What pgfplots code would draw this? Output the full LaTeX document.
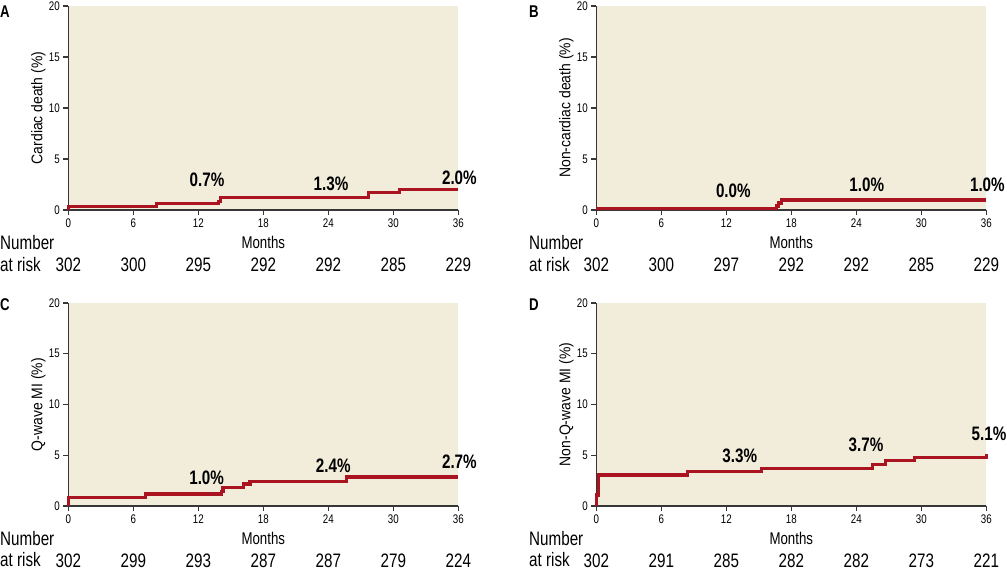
\documentclass[border=0pt]{standalone}
\usepackage{fontspec}
\setmainfont{Liberation Sans}[FakeStretch=0.78]
\newfontfamily\ylfont{Liberation Sans}[FakeStretch=0.9]
\usepackage{pgfplots}
\pgfplotsset{compat=1.18}

\definecolor{bgbeige}{RGB}{242,237,219}
\definecolor{kmred}{RGB}{170,20,32}
\definecolor{axgray}{RGB}{55,55,55}

\tikzset{pct/.style={font=\bfseries\fontsize{19.5}{21}\selectfont}}

\pgfplotsset{
  kmpanel/.style={
    scale only axis, width=390pt, height=204pt,
    xmin=0, xmax=36, ymin=0, ymax=20,
    xtick={0,6,...,36}, ytick={0,5,...,20},
    axis x line*=bottom, axis y line*=left,
    axis line style={axgray, line width=1.3pt},
    tick style={axgray, line width=1.1pt},
    tick align=outside, major tick length=5pt,
    axis background/.style={fill=bgbeige},
    /pgf/number format/assume math mode=true,
    ticklabel style={font=\fontsize{12.5}{13}\selectfont},
    xlabel={Months},
    xlabel style={font=\fontsize{17}{19}\selectfont, at={(axis description cs:0.5,-0.16)}, anchor=center},
    ylabel style={font=\ylfont\fontsize{15.5}{17}\selectfont, at={(axis description cs:-0.077,0.5)}, anchor=center},
    clip=false,
  },
  km/.style={const plot, color=kmred, line width=3.3pt, mark=none},
  risk/.style={draw=none, mark=none, forget plot, nodes near coords, point meta=explicit symbolic,
    nodes near coords style={anchor=center, font=\fontsize{19.5}{21}\selectfont, text=black}},
}

\begin{document}
\begin{tikzpicture}[x=1pt,y=1pt]
\path[use as bounding box] (0,0) rectangle (1007,571);

% A
\begin{axis}[kmpanel, at={(68.3pt,361pt)}, anchor=south west, ylabel={Cardiac death (\%)}]
  \addplot[km] coordinates {(0,0) (0,0.33) (8.16,0.66) (13.85,0.85) (14.07,1.24) (27.7,1.7) (30.6,2.03) (36,2.03)};
  \addplot[risk] coordinates {(0,-5.4)[302] (6,-5.4)[300] (12,-5.4)[295] (18,-5.4)[292] (24,-5.4)[292] (30,-5.4)[285] (36,-5.4)[229]};
  \node[pct] at (axis cs:12.8,2.94) {0.7\%};
  \node[pct] at (axis cs:24.25,2.6) {1.3\%};
  \node[pct] at (axis cs:36.1,3.17) {2.0\%};
\end{axis}

% B
\begin{axis}[kmpanel, at={(596.3pt,361pt)}, anchor=south west, ylabel={Non-cardiac death (\%)}]
  \addplot[km] coordinates {(0,0.13) (16.65,0.4) (16.85,0.7) (17.1,0.98) (36,0.98)};
  \addplot[risk] coordinates {(0,-5.4)[302] (6,-5.4)[300] (12,-5.4)[297] (18,-5.4)[292] (24,-5.4)[292] (30,-5.4)[285] (36,-5.4)[229]};
  \node[pct] at (axis cs:12.65,1.9) {0.0\%};
  \node[pct] at (axis cs:24.96,2.5) {1.0\%};
  \node[pct] at (axis cs:36.1,2.5) {1.0\%};
\end{axis}

% C
\begin{axis}[kmpanel, height=203pt, at={(68.3pt,65pt)}, anchor=south west, ylabel={Q-wave MI (\%)}]
  \addplot[km] coordinates {(0,0) (0,0.85) (7.14,1.18) (14.16,1.44) (14.28,1.84) (16.2,2.16) (16.77,2.43) (25.7,2.85) (36,2.85)};
  \addplot[risk] coordinates {(0,-5.4)[302] (6,-5.4)[299] (12,-5.4)[293] (18,-5.4)[287] (24,-5.4)[287] (30,-5.4)[279] (36,-5.4)[224]};
  \node[pct] at (axis cs:12.77,2.8) {1.0\%};
  \node[pct] at (axis cs:24.46,3.93) {2.4\%};
  \node[pct] at (axis cs:36.1,4.33) {2.7\%};
\end{axis}

% D
\begin{axis}[kmpanel, height=203pt, at={(596.3pt,65pt)}, anchor=south west, ylabel={Non-Q-wave MI (\%)}]
  \addplot[km] coordinates {(0,0) (0,1.08) (0.18,3.05) (8.43,3.37) (15.27,3.7) (25.48,4.1) (26.71,4.46) (29.35,4.79) (36,4.79) (36,5.1)};
  \addplot[risk] coordinates {(0,-5.4)[302] (6,-5.4)[291] (12,-5.4)[285] (18,-5.4)[282] (24,-5.4)[282] (30,-5.4)[273] (36,-5.4)[221]};
  \node[pct] at (axis cs:13.24,4.95) {3.3\%};
  \node[pct] at (axis cs:24.9,6.0) {3.7\%};
  \node[pct] at (axis cs:36.25,7.15) {5.1\%};
\end{axis}

% panel letters and risk-table headings
\begin{scope}[every node/.style={anchor=west, inner sep=0pt}]
  \node[font=\bfseries\fontsize{17}{18}\selectfont] at (0,559) {A};
  \node[font=\bfseries\fontsize{17}{18}\selectfont] at (529,559) {B};
  \node[font=\bfseries\fontsize{17}{18}\selectfont] at (0,266) {C};
  \node[font=\bfseries\fontsize{17}{18}\selectfont] at (529,266) {D};
  \foreach \xx/\yy in {0/328, 529/328, 0/32, 529/32}
    \node[font=\fontsize{19.5}{21}\selectfont] at (\xx,\yy) {Number};
  \foreach \xx/\yy in {0/306, 529/306, 0/11, 529/11}
    \node[font=\fontsize{19.5}{21}\selectfont] at (\xx,\yy) {at risk};
\end{scope}
\end{tikzpicture}
\end{document}
